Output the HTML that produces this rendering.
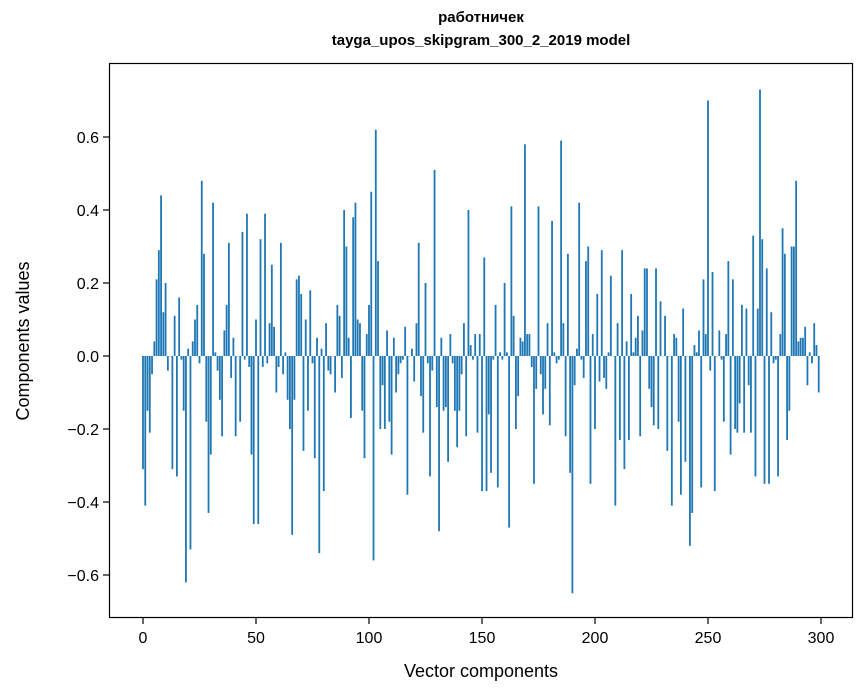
<!DOCTYPE html>
<html><head><meta charset="utf-8"><style>
body{margin:0;background:#fff;}
svg{display:block;font-family:"Liberation Sans","DejaVu Sans",sans-serif;}
</style></head><body>
<svg id="s" width="867" height="696" xmlns="http://www.w3.org/2000/svg">
<rect width="867" height="696" fill="#fff"/>
<g id="bars"></g>
<rect x="109.5" y="63.5" width="743" height="554" fill="none" stroke="#000" stroke-width="1.2"/>
<g id="ticks" font-size="16" fill="#000"></g>
<text x="481" y="22" text-anchor="middle" font-size="15" font-weight="bold">работничек</text>
<text x="481" y="45" text-anchor="middle" font-size="15" font-weight="bold">tayga_upos_skipgram_300_2_2019 model</text>
<text x="481" y="677" text-anchor="middle" font-size="18">Vector components</text>
<text transform="translate(29,341) rotate(-90)" text-anchor="middle" font-size="18">Components values</text>
</svg>
<script>
var v=[-0.31,-0.41,-0.15,-0.21,-0.05,0.04,0.21,0.29,0.44,0.12,0.20,-0.04,0.0,-0.31,0.11,-0.33,0.16,-0.01,-0.15,-0.62,0.02,-0.53,0.04,0.10,0.14,-0.02,0.48,0.28,-0.18,-0.43,-0.27,0.42,0.01,-0.04,-0.12,-0.22,0.07,0.14,0.31,-0.06,0.05,-0.22,0.0,-0.18,0.34,-0.01,0.39,-0.03,-0.27,-0.46,0.10,-0.46,0.32,-0.03,0.39,-0.02,0.09,0.25,0.08,-0.10,-0.03,0.31,-0.05,0.01,-0.12,-0.20,-0.49,-0.12,0.21,0.22,0.17,-0.26,0.10,-0.15,0.18,-0.02,-0.28,0.05,-0.54,0.02,-0.37,0.09,-0.04,-0.05,0.0,-0.10,0.14,0.11,-0.06,0.40,0.30,0.05,-0.17,0.38,0.42,0.10,0.09,-0.15,-0.28,0.06,0.14,0.45,-0.56,0.62,0.26,-0.20,-0.08,-0.20,0.07,-0.18,-0.27,0.05,-0.10,-0.05,-0.02,-0.01,0.08,-0.38,0.0,0.02,-0.07,0.09,0.31,-0.11,-0.21,0.20,-0.02,-0.33,-0.04,0.51,-0.14,-0.48,0.05,-0.15,-0.14,-0.29,0.06,-0.02,-0.15,-0.25,-0.15,-0.05,0.09,-0.22,0.40,0.03,-0.01,0.06,-0.21,0.06,-0.37,0.27,-0.37,-0.16,-0.32,-0.01,0.14,-0.36,0.01,-0.01,0.20,0.01,-0.47,0.41,0.11,-0.20,-0.11,0.05,0.04,0.58,0.06,0.06,-0.03,-0.35,-0.09,0.41,-0.05,-0.16,-0.09,0.09,-0.19,0.37,0.01,-0.02,-0.01,0.59,0.09,-0.22,0.28,-0.32,-0.65,-0.08,0.02,0.42,-0.01,-0.06,0.26,0.30,-0.35,0.06,-0.20,0.17,-0.07,0.29,-0.06,-0.09,0.01,0.22,0.0,-0.41,0.09,-0.23,0.29,-0.31,0.04,-0.23,0.17,0.01,0.05,0.11,-0.22,0.07,0.24,0.24,-0.09,-0.14,-0.19,0.24,-0.20,0.15,0.0,0.11,-0.26,0.0,-0.41,0.06,0.05,-0.18,-0.38,0.13,-0.29,0.0,-0.52,-0.43,0.03,0.01,0.07,-0.36,0.21,0.06,0.70,-0.04,0.23,-0.37,0.0,0.07,-0.01,-0.18,0.06,0.26,-0.27,0.21,-0.20,-0.21,-0.13,0.14,-0.21,0.13,-0.08,-0.21,0.33,-0.33,0.13,0.73,0.32,-0.35,0.24,-0.35,0.12,-0.02,-0.01,-0.33,0.06,0.35,0.28,-0.23,-0.15,0.30,0.30,0.48,0.04,0.05,0.05,0.08,-0.08,0.01,-0.02,0.09,0.03,-0.10];
var NS="http://www.w3.org/2000/svg",g=document.getElementById("bars"),t=document.getElementById("ticks");
function X(i){return 143+2.26*i;} function Y(a){return 356-a*365;}
v.forEach(function(a,i){var r=document.createElementNS(NS,"rect");var y0=Y(Math.max(a,0)),h=Math.abs(a)*365;
r.setAttribute("x",X(i)-0.9);r.setAttribute("width",1.8);r.setAttribute("y",y0);r.setAttribute("height",Math.max(h,0.3));r.setAttribute("fill","#1f77b4");g.appendChild(r);});
function el(n,at,txt){var e=document.createElementNS(NS,n);for(var k in at)e.setAttribute(k,at[k]);if(txt!=null)e.textContent=txt;t.appendChild(e);}
for(var k=0;k<=6;k++){var x=X(50*k);el("line",{x1:x,x2:x,y1:618,y2:624,stroke:"#000","stroke-width":1.2});el("text",{x:x,y:643,"text-anchor":"middle"},String(50*k));}
[-0.6,-0.4,-0.2,0,0.2,0.4,0.6].forEach(function(a){var y=Y(a);el("line",{x1:103,x2:109,y1:y,y2:y,stroke:"#000","stroke-width":1.2});
el("text",{x:99,y:y+6,"text-anchor":"end"},(a<0?"\u2212":"")+Math.abs(a).toFixed(1));});
</script>
</body></html>
